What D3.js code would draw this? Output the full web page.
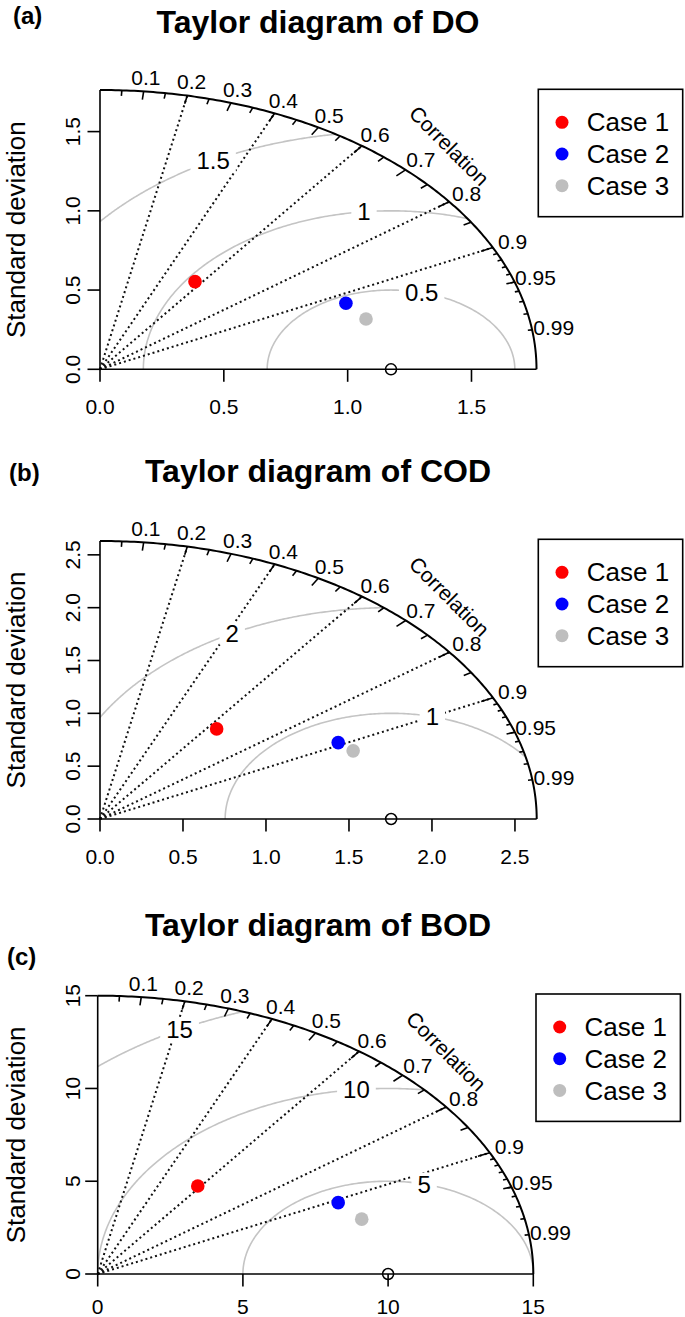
<!DOCTYPE html>
<html><head><meta charset="utf-8">
<script src="https://cdn.jsdelivr.net/npm/d3@7"></script>
<style>
body{margin:0;background:#fff}
svg{display:block}
text{font-family:"Liberation Sans",Arial,sans-serif;fill:#000}
</style>
</head><body>
<svg id="chart" width="685" height="1317"></svg>
<script>
// ---------------- data ----------------
const panelNames = ["DO", "COD", "BOD"];
const panelTags = ["(a)", "(b)", "(c)"];
const caseNames = ["Case 1", "Case 2", "Case 3"];
const caseColors = ["#ff0000", "#0000ff", "#bebebe"];
const refSD = [1.175, 1.754, 10];

const sdDO  = [0.673, 1.077, 1.120];
const corDO = [0.570, 0.922, 0.959];
const sdCOD  = [1.105, 1.607, 1.656];
const corCOD = [0.636, 0.893, 0.921];
const sdBOD  = [5.86, 9.13, 9.56];
const corBOD = [0.588, 0.907, 0.951];

const gammaDO  = [0.5, 1, 1.5];
const gammaCOD = [1, 2];
const gammaBOD = [5, 10, 15];

const ticksDO  = [0, 0.5, 1, 1.5];
const ticksCOD = [0, 0.5, 1, 1.5, 2, 2.5];
const ticksBOD = [0, 5, 10, 15];
const tickLabelsDO  = ["0.0", "0.5", "1.0", "1.5"];
const tickLabelsCOD = ["0.0", "0.5", "1.0", "1.5", "2.0", "2.5"];
const tickLabelsBOD = ["0", "5", "10", "15"];

const corrLabels = [0.1, 0.2, 0.3, 0.4, 0.5, 0.6, 0.7, 0.8, 0.9, 0.95, 0.99];
const corrLabelText = ["0.1","0.2","0.3","0.4","0.5","0.6","0.7","0.8","0.9","0.95","0.99"];
const radialCorr = [0.2, 0.4, 0.6, 0.8, 0.9];
const bigTicks = [0.1,0.2,0.3,0.4,0.5,0.6,0.7,0.8,0.9];
const medTicks = [0.05,0.15,0.25,0.35,0.45,0.55,0.65,0.75,0.85,0.95];
const smlTicks = [0.91,0.92,0.93,0.94,0.95,0.96,0.97,0.98,0.99];

const sdList = [sdDO, sdCOD, sdBOD];
const corList = [corDO, corCOD, corBOD];
const gammaList = [gammaDO, gammaCOD, gammaBOD];
const tickList = [ticksDO, ticksCOD, ticksBOD];
const tickLabelList = [tickLabelsDO, tickLabelsCOD, tickLabelsBOD];

// ---------------- layout ----------------
const layout = [
  {ox:100,  oy:369.3, rx:436.5, ry:279.3, titleY:33,  tagX:13, tagY:24,  legX:538.3, legY:89.3, xlabY:44.5},
  {ox:100,  oy:819,   rx:436.7, ry:278,   titleY:482, tagX:9,  tagY:481, legX:538.3, legY:539.3, xlabY:44.5},
  {ox:97.7, oy:1274,  rx:435.6, ry:278.3, titleY:936, tagX:7,  tagY:965, legX:536,   legY:994,  xlabY:39.5}
];

const svg = d3.select("#chart");

panelNames.forEach((name, p) => {
  const L = layout[p];
  const ref = refSD[p];
  const maxsd = 1.5 * ref;
  const x = d3.scaleLinear().domain([0, maxsd]).range([L.ox, L.ox + L.rx]);
  const y = d3.scaleLinear().domain([0, maxsd]).range([L.oy, L.oy - L.ry]);
  const g = svg.append("g");
  const line = d3.line().x(d => x(d[0])).y(d => y(d[1]));

  // title & tag
  g.append("text").attr("x", 318).attr("y", L.titleY).attr("text-anchor", "middle")
    .style("font-size", "32px").style("font-weight", "bold").text("Taylor diagram of " + name);
  g.append("text").attr("x", L.tagX).attr("y", L.tagY)
    .style("font-size", "24px").style("font-weight", "bold").text(panelTags[p]);

  // gamma (RMS) contours
  const gammas = gammaList[p];
  const n = gammas.length;
  const labelIdx = d3.range(n).map(i => n === 1 ? 45 : 45 + i * (25 / (n - 1)));
  const labelInfo = [];
  gammas.forEach((gm, i) => {
    let c0 = (maxsd * maxsd - ref * ref - gm * gm) / (2 * ref * gm);
    const t0 = c0 >= 1 ? 0 : Math.acos(Math.max(-1, c0));
    const t1 = gm <= ref ? Math.PI : Math.acos(-ref / gm);
    const pts = d3.range(0, 201).map(k => {
      const t = t0 + (t1 - t0) * k / 200;
      return [ref + gm * Math.cos(t), gm * Math.sin(t)];
    });
    g.append("path").attr("d", line(pts)).attr("fill", "none")
      .attr("stroke", "#c4c4c4").attr("stroke-width", 1.6);
    const ta = (Math.floor(labelIdx[i]) - 1) * 0.03;
    labelInfo.push({v: gm, px: ref + gm * Math.cos(ta), py: gm * Math.sin(ta)});
  });

  // radial dotted lines
  radialCorr.forEach(c => {
    g.append("line").attr("x1", x(0)).attr("y1", y(0))
      .attr("x2", x(maxsd * c)).attr("y2", y(maxsd * Math.sqrt(1 - c * c)))
      .attr("stroke", "#111").attr("stroke-width", 2).attr("stroke-dasharray", "2,3");
  });

  // axes lines
  g.append("line").attr("x1", x(0)).attr("y1", y(0)).attr("x2", x(maxsd)).attr("y2", y(0))
    .attr("stroke", "#000").attr("stroke-width", 1.6);
  g.append("line").attr("x1", x(0)).attr("y1", y(0)).attr("x2", x(0)).attr("y2", y(maxsd))
    .attr("stroke", "#000").attr("stroke-width", 1.6);

  // x / y ticks
  tickList[p].forEach((t, i) => {
    g.append("line").attr("x1", x(t)).attr("x2", x(t)).attr("y1", L.oy).attr("y2", L.oy + 12.5)
      .attr("stroke", "#000").attr("stroke-width", 1.6);
    g.append("text").attr("x", x(t)).attr("y", L.oy + L.xlabY).attr("text-anchor", "middle")
      .style("font-size", "21px").text(tickLabelList[p][i]);
    g.append("line").attr("y1", y(t)).attr("y2", y(t)).attr("x1", L.ox).attr("x2", L.ox - 12.5)
      .attr("stroke", "#000").attr("stroke-width", 1.6);
    g.append("text").attr("transform", `translate(${80},${y(t)}) rotate(-90)`)
      .attr("text-anchor", "middle").style("font-size", "21px").text(tickLabelList[p][i]);
  });

  // y axis title
  g.append("text").attr("transform", `translate(25,${(y(0) + y(maxsd)) / 2}) rotate(-90)`)
    .attr("text-anchor", "middle").style("font-size", "26px").text("Standard deviation");

  // outer arc
  const arcPts = d3.range(0, 181).map(k => {
    const a = Math.PI / 2 * k / 180;
    return [maxsd * Math.cos(a), maxsd * Math.sin(a)];
  });
  g.append("path").attr("d", line(arcPts)).attr("fill", "none")
    .attr("stroke", "#000").attr("stroke-width", 2);

  // arc ticks
  const tick = (arr, f) => arr.forEach(c => {
    const s = Math.sqrt(1 - c * c);
    g.append("line").attr("x1", x(maxsd * c)).attr("y1", y(maxsd * s))
      .attr("x2", x(maxsd * c * f)).attr("y2", y(maxsd * s * f))
      .attr("stroke", "#000").attr("stroke-width", 1.6);
  });
  tick(bigTicks, 0.97);
  tick(medTicks, 0.98);
  tick(smlTicks, 0.99);

  // correlation labels
  corrLabels.forEach((c, i) => {
    const s = Math.sqrt(1 - c * c);
    g.append("text").attr("x", x(maxsd * 1.05 * c)).attr("y", y(maxsd * 1.05 * s))
      .attr("dy", "0.35em").attr("text-anchor", "middle")
      .style("font-size", "21px").text(corrLabelText[i]);
  });
  g.append("text").attr("transform", `translate(${x(maxsd * 0.8)},${y(maxsd * 0.8)}) rotate(45)`)
    .attr("dy", "0.35em").attr("text-anchor", "middle")
    .style("font-size", "21px").text("Correlation");

  // gamma labels with white boxes
  labelInfo.forEach(d => {
    if (d.px <= 0) return;
    const lg = g.append("g");
    const txt = lg.append("text").attr("x", x(d.px)).attr("y", y(d.py)).attr("dy", "0.35em")
      .attr("text-anchor", "middle").style("font-size", "24px").text(String(d.v));
    const bb = txt.node().getBBox();
    lg.insert("rect", "text").attr("x", bb.x - 6).attr("y", bb.y + 2)
      .attr("width", bb.width + 12).attr("height", bb.height - 4).attr("fill", "#fff");
  });

  // reference point
  g.append("circle").attr("cx", x(ref)).attr("cy", y(0)).attr("r", 5.5)
    .attr("fill", "none").attr("stroke", "#000").attr("stroke-width", 1.5);

  // case points
  sdList[p].forEach((sd, i) => {
    const c = corList[p][i];
    g.append("circle").attr("cx", x(sd * c)).attr("cy", y(sd * Math.sqrt(1 - c * c)))
      .attr("r", 6.8).attr("fill", caseColors[i]);
  });

  // legend
  const lg = g.append("g");
  lg.append("rect").attr("x", L.legX).attr("y", L.legY).attr("width", 144.4).attr("height", 127.4)
    .attr("fill", "#fff").attr("stroke", "#000").attr("stroke-width", 1.6);
  caseNames.forEach((cn, i) => {
    const ry = L.legY + 33 + i * 31.7;
    lg.append("circle").attr("cx", L.legX + 23.7).attr("cy", ry).attr("r", 6.5).attr("fill", caseColors[i]);
    lg.append("text").attr("x", L.legX + 48.5).attr("y", ry).attr("dy", "0.35em")
      .style("font-size", "26px").text(cn);
  });
});
</script>
</body></html>
